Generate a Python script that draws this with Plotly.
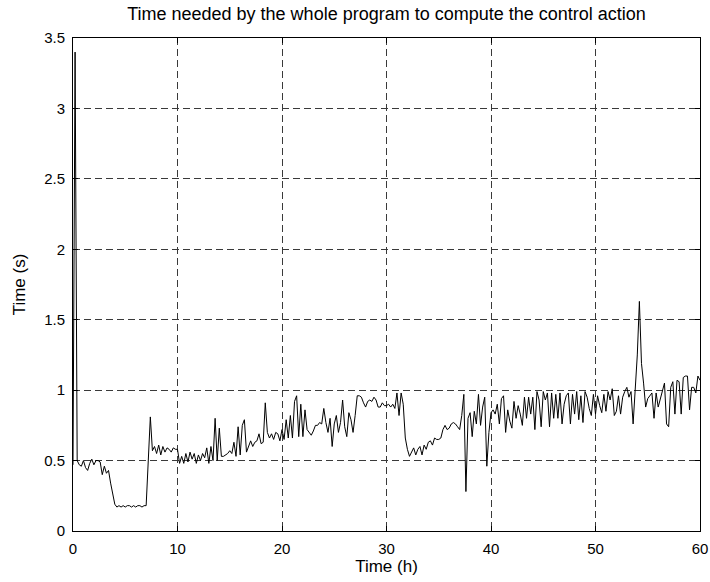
import numpy as np
import plotly.graph_objects as go

# computation time (s), one sample every 0.2 h
SAMPLE_STEP_H = 0.2

h00_10 = [
    0.47, 3.40, 0.50, 0.47, 0.46, 0.50, 0.45, 0.43, 0.48, 0.51,
    0.47, 0.50, 0.50, 0.49, 0.40, 0.46, 0.41, 0.43, 0.34, 0.26,
    0.19, 0.17, 0.18, 0.17, 0.18, 0.17, 0.18, 0.18, 0.17, 0.18,
    0.17, 0.18, 0.18, 0.17, 0.18, 0.18, 0.45, 0.81, 0.57, 0.60,
    0.55, 0.61, 0.54, 0.60, 0.56, 0.59, 0.58, 0.56, 0.59, 0.58,
]
h10_20 = [
    0.58, 0.48, 0.53, 0.48, 0.55, 0.49, 0.56, 0.51, 0.55, 0.48,
    0.54, 0.50, 0.55, 0.52, 0.59, 0.48, 0.60, 0.50, 0.80, 0.50,
    0.73, 0.53, 0.53, 0.54, 0.55, 0.57, 0.55, 0.63, 0.53, 0.74,
    0.54, 0.75, 0.79, 0.56, 0.60, 0.64, 0.60, 0.63, 0.64, 0.69,
    0.62, 0.63, 0.91, 0.70, 0.66, 0.69, 0.65, 0.70, 0.69, 0.64,
]
h20_30 = [
    0.72, 0.65, 0.79, 0.66, 0.82, 0.66, 0.92, 0.96, 0.67, 0.90,
    0.67, 0.86, 0.72, 0.70, 0.68, 0.71, 0.75, 0.75, 0.77, 0.76,
    0.87, 0.77, 0.70, 0.80, 0.60, 0.76, 0.82, 0.70, 0.77, 0.93,
    0.74, 0.67, 0.84, 0.79, 0.70, 0.82, 0.96, 0.96, 0.95, 0.91,
    0.88, 0.92, 0.93, 0.92, 0.95, 0.93, 0.88, 0.88, 0.91, 0.89,
]
h30_40 = [
    0.89, 0.90, 0.88, 0.90, 0.87, 0.98, 0.82, 0.98, 0.90, 0.66,
    0.58, 0.53, 0.56, 0.59, 0.54, 0.58, 0.60, 0.54, 0.61, 0.58,
    0.63, 0.64, 0.61, 0.66, 0.65, 0.65, 0.66, 0.72, 0.75, 0.72,
    0.73, 0.76, 0.77, 0.76, 0.74, 0.72, 0.82, 0.97, 0.28, 0.80,
    0.84, 0.67, 0.85, 0.76, 0.97, 0.75, 0.88, 0.95, 0.46, 0.70,
]
h40_50 = [
    0.84, 0.86, 0.83, 0.90, 0.76, 0.94, 0.96, 0.70, 0.86, 0.78,
    0.73, 0.92, 0.80, 0.89, 0.83, 0.75, 0.95, 0.80, 0.95, 0.83,
    0.95, 0.72, 0.99, 0.93, 0.74, 0.99, 0.93, 0.98, 0.74, 0.98,
    0.80, 0.97, 0.80, 0.98, 0.76, 0.90, 0.96, 0.98, 0.76, 0.97,
    0.83, 0.99, 0.79, 0.96, 0.77, 0.99, 0.95, 0.87, 0.82, 0.97,
]
h50_60 = [
    0.83, 0.96, 0.89, 0.84, 0.97, 0.85, 0.99, 0.93, 1.01, 0.82,
    0.85, 0.96, 0.83, 0.95, 0.99, 1.02, 0.95, 0.99, 0.76, 1.02,
    1.25, 1.63, 1.19, 1.05, 0.88, 0.94, 0.96, 0.98, 0.80, 0.98,
    0.88, 0.94, 1.00, 1.05, 0.76, 0.74, 1.02, 1.06, 0.83, 1.07,
    1.06, 0.83, 1.09, 1.10, 1.10, 0.86, 1.02, 1.02, 0.98, 1.10,
    1.07,
]

x_ticks = [0, 10, 20, 30, 40, 50, 60]
y_ticks = [0, 0.5, 1, 1.5, 2, 2.5, 3, 3.5]
y_tick_text = ["0", "0.5", "1", "1.5", "2", "2.5", "3", "3.5"]

values = np.array(h00_10 + h10_20 + h20_30 + h30_40 + h40_50 + h50_60)
hours = np.arange(len(values)) * SAMPLE_STEP_H

FONT = "Liberation Sans, Arial, sans-serif"

axis_common = dict(
    showline=True,
    linecolor="black",
    linewidth=1,
    mirror="ticks",
    ticks="inside",
    ticklen=5,
    tickcolor="black",
    showgrid=True,
    gridcolor="#3a3a3a",
    gridwidth=1,
    griddash="7px,4px",
    zeroline=False,
    ticklabelstandoff=4,
    tickfont=dict(size=15, color="black", family=FONT),
)

fig = go.Figure()
fig.add_trace(go.Scatter(x=hours, y=values, mode="lines",
                         line=dict(color="black", width=1), showlegend=False))

fig.update_layout(
    width=710,
    height=582,
    paper_bgcolor="white",
    plot_bgcolor="white",
    margin=dict(l=73, r=10, t=38, b=51),
    font=dict(family=FONT, size=15, color="black"),
    title=dict(text="Time needed by the whole program to compute the control action",
               x=0.5, xref="paper", y=0.977, yref="container", yanchor="middle",
               font=dict(size=18, color="black", family=FONT)),
    xaxis=dict(range=[0, 60], tickvals=x_ticks, automargin=False,
               title=dict(text="Time (h)", standoff=4, font=dict(size=17)), **axis_common),
    yaxis=dict(range=[0, 3.5], tickvals=y_ticks, ticktext=y_tick_text, automargin=False,
               title=dict(text="Time (s)", standoff=14, font=dict(size=17)), **axis_common),
)

# drop the default page margin so the figure sits at the window's corner
fig.write_html("out.html", config={"displayModeBar": False},
               post_script="document.body.style.margin='0';")
